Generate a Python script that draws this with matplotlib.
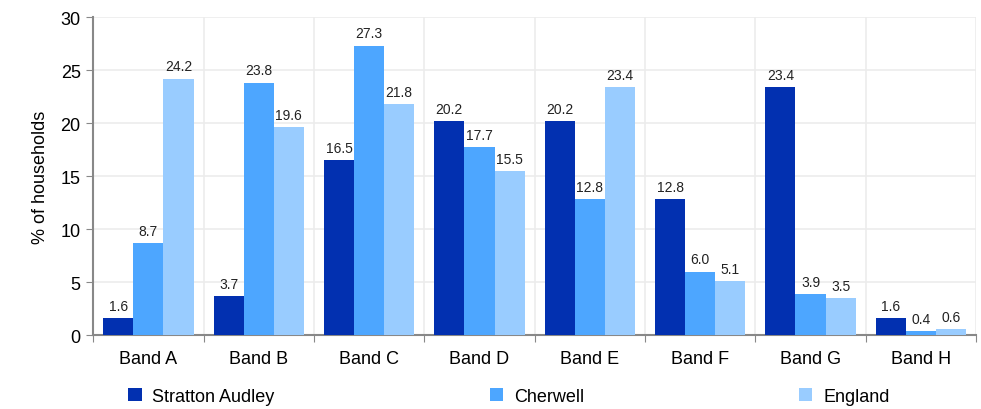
import numpy as np
import matplotlib
matplotlib.use("Agg")
from matplotlib import pyplot as plt

plt.rcParams['font.family'] = ['Liberation Sans', 'DejaVu Sans']

bands = ['Band A', 'Band B', 'Band C', 'Band D', 'Band E', 'Band F', 'Band G', 'Band H']
series = ['Stratton Audley', 'Cherwell', 'England']
stratton = [1.6, 3.7, 16.5, 20.2, 20.2, 12.8, 23.4, 1.6]
cherwell = [8.7, 23.8, 27.3, 17.7, 12.8, 6.0, 3.9, 0.4]
england = [24.2, 19.6, 21.8, 15.5, 23.4, 5.1, 3.5, 0.6]
colors = ['#0230b0', '#4da6ff', '#99ccff']

fig = plt.figure(figsize=(9.81, 4.10), dpi=100)
ax = fig.add_axes([0.095, 0.180, 0.900, 0.776])

x = np.arange(len(bands))
w = 0.273
for i, (vals, col, name) in enumerate(zip([stratton, cherwell, england], colors, series)):
    bars = ax.bar(x + (i - 1) * w, vals, w, color=col, label=name, zorder=3)
    for b, v in zip(bars, vals):
        ax.text(b.get_x() + b.get_width() / 2, v + 0.5, f'{v:.1f}',
                ha='center', va='bottom', fontsize=10, color='#222222')

ax.set_xlim(-0.5, len(bands) - 0.5)
ax.set_ylim(0, 30)
ax.set_yticks(range(0, 31, 5))
ax.tick_params(axis='y', labelsize=13, length=5, color='#888888', pad=4)

# category labels centred, ticks at boundaries
ax.set_xticks(np.arange(-0.5, len(bands), 1.0))
ax.set_xticklabels([])
ax.set_xticks(x, minor=True)
ax.set_xticklabels(bands, minor=True, fontsize=13)
ax.tick_params(axis='x', which='major', length=5, color='#888888')
ax.tick_params(axis='x', which='minor', length=0, pad=11)

ax.grid(True, which='major', color='#ececec', linewidth=1.2, zorder=0)
for s in ['top', 'right']:
    ax.spines[s].set_visible(False)
for s in ['left', 'bottom']:
    ax.spines[s].set_color('#888888')
    ax.spines[s].set_linewidth(1.5)

ax.set_ylabel('% of households', fontsize=13, labelpad=8)

fig.legend(loc='lower left', bbox_to_anchor=(0.114, -0.03), ncol=3, frameon=False,
           fontsize=13, handlelength=0.75, handleheight=0.75, handletextpad=0.6,
           columnspacing=11.9)

fig.savefig('out.png', dpi=100)
